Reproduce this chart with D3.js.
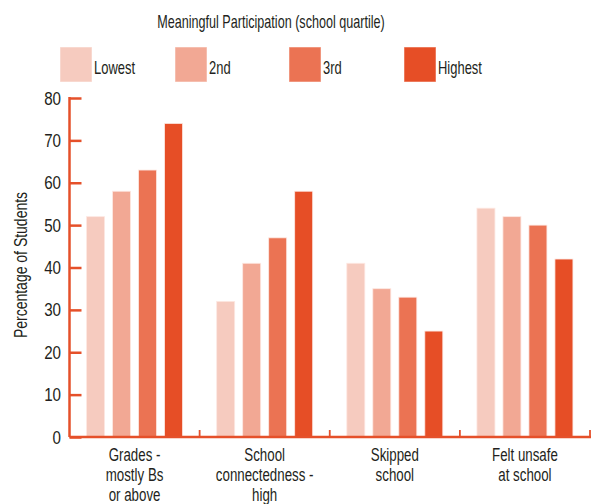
<!DOCTYPE html>
<html><head><meta charset="utf-8">
<script src="https://cdn.jsdelivr.net/npm/d3@7/dist/d3.min.js"></script>
<style>
body{margin:0;background:#fff;}
text{font-family:"Liberation Sans",Arial,sans-serif;fill:#231f20;}
</style></head>
<body>
<svg id="chart" width="594" height="504"></svg>
<script>
const categories = [["Grades -","mostly Bs","or above"],["School","connectedness -","high"],["Skipped","school"],["Felt unsafe","at school"]];
const seriesNames = ["Lowest","2nd","3rd","Highest"];
const lowest  = [52, 32, 41, 54];
const second  = [58, 41, 35, 52];
const third   = [63, 47, 33, 50];
const highest = [74, 58, 25, 42];
const yTicks = [0,10,20,30,40,50,60,70,80];
const colors = ["#F6CBBF","#F2A894","#EB7353","#E64E26"];
const axisColor = "#E5502A";
const title = "Meaningful Participation (school quartile)";
const yTitle = "Percentage of Students";

const series = [lowest, second, third, highest];
const svg = d3.select("#chart");
const mLeft = 69.5, mRight = 590, mTop = 98, mBottom = 437;
const SX = 0.72;

function addText(x, yy, str, size, anchor, sx, rot){
  const g = svg.append("g").attr("transform", `translate(${x},${yy})` + (rot ? ` rotate(${rot})` : "") + ` scale(${sx||SX},1)`);
  g.append("text").attr("text-anchor", anchor||"start").style("font-size", size+"px").text(str);
  return g;
}

const x0 = d3.scaleBand().domain(d3.range(categories.length)).range([mLeft, mRight]).paddingInner(0).paddingOuter(0);
const y = d3.scaleLinear().domain([0, 80]).range([mBottom, mTop]);

// Title
addText(271, 28, title, 17.5, "middle");

// Legend
const legX = [60, 175, 289, 404];
seriesNames.forEach((n,i)=>{
  svg.append("rect").attr("x", legX[i]).attr("y", 47).attr("width", 32).attr("height", 35)
    .attr("fill", colors[i]).attr("stroke","#fff").attr("stroke-opacity",0.5).attr("stroke-width",1);
  addText(legX[i]+34, 74, n, 18, "start");
});

// Bars
const barW = 18, pitch = 26;
categories.forEach((c, ci)=>{
  const cx = x0(ci) + x0.bandwidth()/2;
  series.forEach((s, si)=>{
    const bx = cx - (pitch*1.5) - barW/2 + si*pitch;
    svg.append("rect").attr("x", bx).attr("y", y(s[ci]))
      .attr("width", barW).attr("height", y(0)-y(s[ci]))
      .attr("fill", colors[si]).attr("stroke","#fde8e2").attr("stroke-width",0.8);
  });
});

// Y axis
const yAxis = d3.axisRight(y).tickValues(yTicks).tickSize(12).tickFormat("");
const yg = svg.append("g").attr("transform",`translate(${mLeft},0)`).call(yAxis);
yg.select(".domain").attr("stroke", axisColor).attr("stroke-width",2.5).attr("d",`M0,${mTop-1}V${mBottom}`);
yg.selectAll(".tick line").attr("stroke", axisColor).attr("stroke-width",2.5);
yTicks.forEach(t=>{
  addText(61, y(t)+6.5, String(t), 18.5, "end", 0.82);
});

// X axis
svg.append("line").attr("x1", mLeft).attr("x2", mRight+1).attr("y1", mBottom).attr("y2", mBottom)
  .attr("stroke", axisColor).attr("stroke-width",2.5);
d3.range(categories.length+1).forEach(i=>{
  const xx = i < categories.length ? x0(i) : mRight;
  if(i>0) svg.append("line").attr("x1", xx).attr("x2", xx).attr("y1", mBottom).attr("y2", mBottom-7)
    .attr("stroke", axisColor).attr("stroke-width",1.8);
});
categories.forEach((c, ci)=>{
  const cx = x0(ci) + x0.bandwidth()/2;
  c.forEach((line, li)=>{
    addText(cx, 461 + li*20, line, 18.5, "middle");
  });
});

// Y title
addText(27, 265, yTitle, 17.5, "middle", 0.8, -90);
</script>
</body></html>
